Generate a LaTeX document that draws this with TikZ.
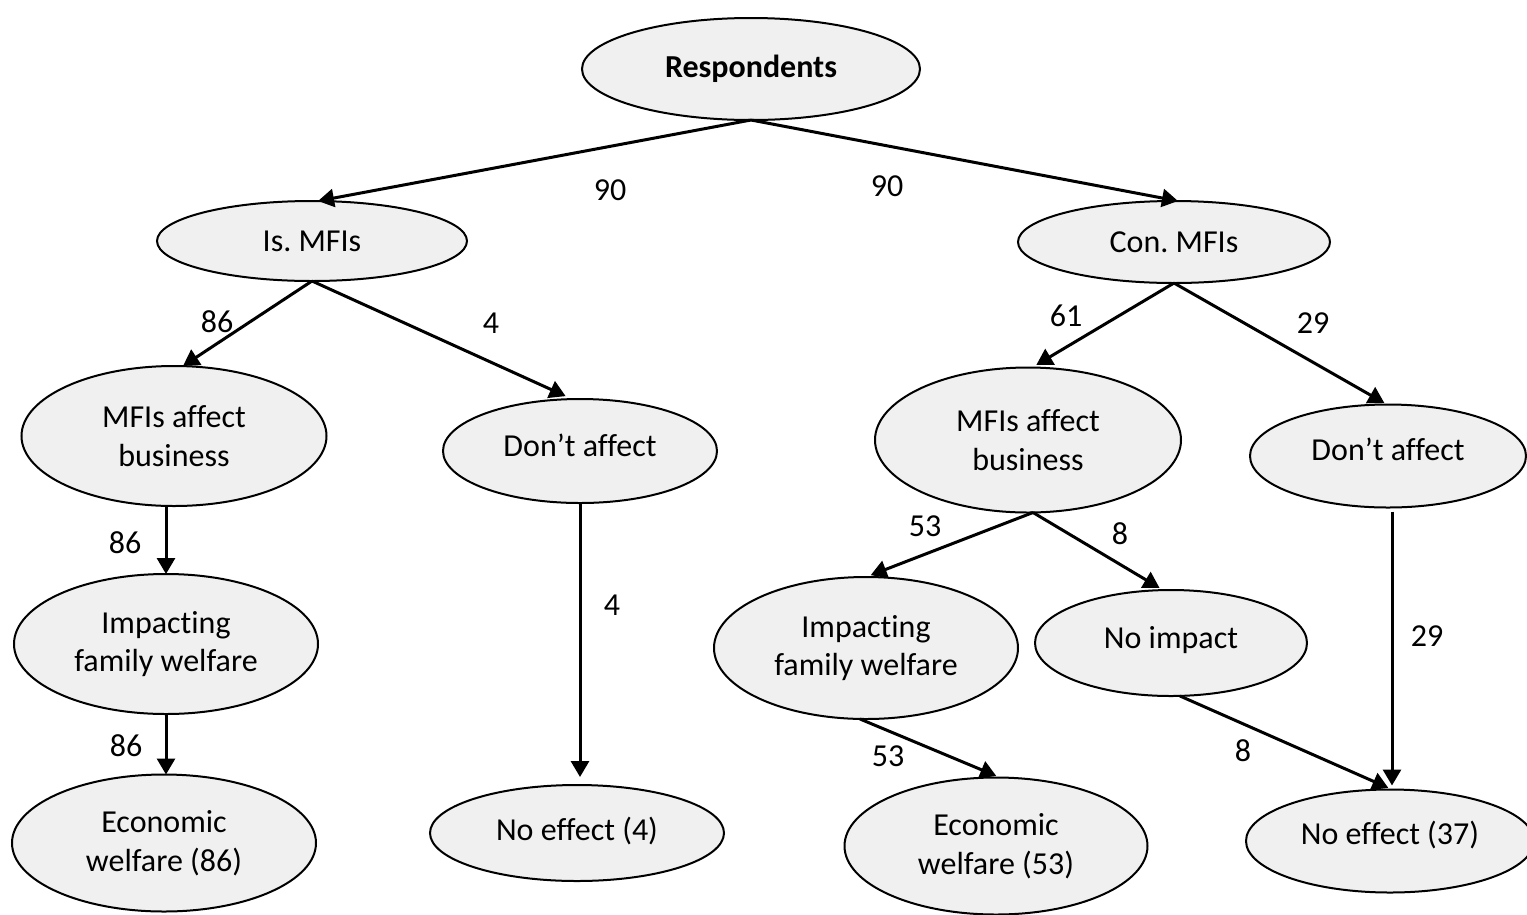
\documentclass[tikz,border=0pt]{standalone}
\usepackage{fontspec}
\setmainfont{Carlito}[Ligatures=NoCommon]
\usetikzlibrary{arrows.meta,shapes.geometric}
\definecolor{nodefill}{HTML}{F0F0F0}
\frenchspacing
\tikzset{
  ell/.style={ellipse, draw, line width=2pt, fill=nodefill, inner sep=0pt,
    outer sep=0pt, align=center, font=\fontsize{32}{38.5}\selectfont},
  % single-line labels sit a little above the middle of their ellipse
  upby/.style={text height=22pt, text depth=#1},
  conn/.style={draw, line width=3pt, -{Triangle[width=18pt,length=16pt]}},
  lbl/.style={font=\fontsize{32}{38}\selectfont, inner sep=0pt}
}
\begin{document}
\begin{tikzpicture}[x=1pt,y=-1pt]
\useasboundingbox (0,0) rectangle (1527,914);

% top level
\node[ell, minimum width=338pt, minimum height=102pt] (resp) at (751,69) {\textbf{Respondents}};
\node[ell, minimum width=310pt, minimum height=80pt] (is) at (312,241) {Is. MFIs};
\node[ell, minimum width=312pt, minimum height=82pt] (con) at (1174,242) {Con. MFIs};

% Is. MFIs branch
\node[ell, minimum width=305pt, minimum height=140pt] (maL) at (174,436) {MFIs affect\\business};
\node[ell, upby=11pt, minimum width=274pt, minimum height=104pt] (dnL) at (580,451) {Don’t affect};
\node[ell, minimum width=304pt, minimum height=140pt] (impL) at (166,644) {Impacting\\family welfare};
\node[ell, minimum width=304pt, minimum height=137pt] (ewL) at (164,843) {Economic\\welfare (86)};
\node[ell, upby=7pt, minimum width=294pt, minimum height=96pt] (noL) at (577,833) {No effect (4)};

% Con. MFIs branch
\node[ell, minimum width=306pt, minimum height=145pt] (maR) at (1028,440) {MFIs affect\\business};
\node[ell, upby=13pt, minimum width=276pt, minimum height=103pt] (dnR) at (1388,456) {Don’t affect};
\node[ell, minimum width=304pt, minimum height=142pt] (impR) at (866,648) {Impacting\\family welfare};
\node[ell, upby=11pt, minimum width=272pt, minimum height=106pt] (ni) at (1171,643) {No impact};
\node[ell, minimum width=303pt, minimum height=137pt] (ewR) at (996,846) {Economic\\welfare (53)};
\node[ell, upby=15pt, minimum width=288pt, minimum height=103pt] (noR) at (1390,841) {No effect (37)};

% connectors
\draw[conn] (resp.south) -- ([xshift=6pt]is.north);
\draw[conn] (resp.south) -- ([xshift=4pt]con.north);
\draw[conn] (is.south) -- ([xshift=9pt]maL.north);
\draw[conn, shorten >=7pt] (is.south) -- ([xshift=-8pt]dnL.north);
\draw[conn, shorten >=5pt] (con.south) -- ([xshift=4pt]maR.north);
\draw[conn, shorten >=3pt] (con.south) -- ([xshift=-1pt]dnR.north);
\draw[conn] (impL.north |- maL.south) -- (impL.north);
\draw[conn] (impL.south) -- (impL.south |- ewL.north);
\draw[conn, shorten >=8pt] (dnL.south) -- (dnL.south |- noL.north);
\draw[conn, shorten >=5pt] ([xshift=5pt]maR.south) -- (impR.north);
\draw[conn, shorten >=4pt] ([xshift=5pt]maR.south) -- ([xshift=-8pt]ni.north);
\draw[conn, shorten >=4pt] ([xshift=-6pt]impR.south) -- ([xshift=4pt]ewR.north);
\draw[conn, shorten >=4pt] ([xshift=9pt]ni.south) -- ([xshift=2pt]noR.north);
\draw[conn, shorten <=4pt, shorten >=4pt] ([xshift=4pt]dnR.south) -- ([xshift=2pt]noR.north);

% counts
\node[lbl] (c1) at (610,190) {90};
\node[lbl] (c2) at (887,186) {90};
\node[lbl] (c3) at (217,322) {86};
\node[lbl] (c4) at (491,323) {4};
\node[lbl] (c5) at (1066,316) {61};
\node[lbl] (c6) at (1313,323) {29};
\node[lbl] (c7) at (125,543) {86};
\node[lbl] (c8) at (126,746) {86};
\node[lbl] (c9) at (612,605) {4};
\node[lbl] (c10) at (925,526) {53};
\node[lbl] (c11) at (1120,534) {8};
\node[lbl] (c12) at (888,756) {53};
\node[lbl] (c13) at (1243,751) {8};
\node[lbl] (c14) at (1427,636) {29};
\end{tikzpicture}
\end{document}
